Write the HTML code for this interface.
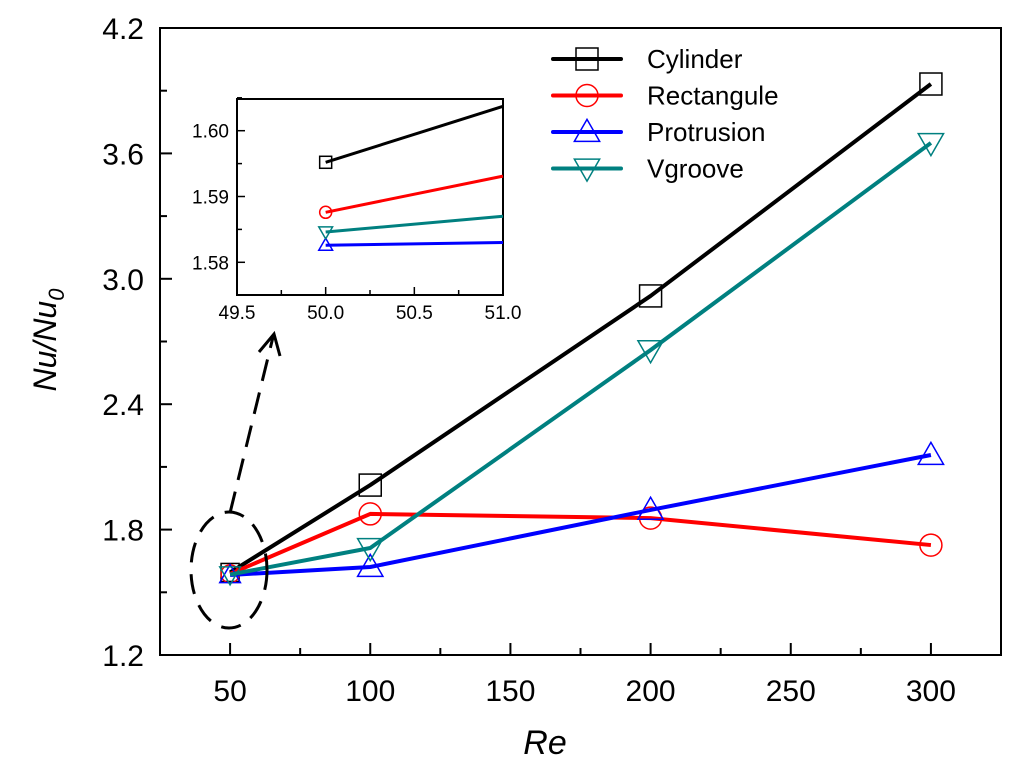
<!DOCTYPE html>
<html><head><meta charset="utf-8"><style>
body{margin:0;background:#fff}
svg{display:block;font-family:"Liberation Sans",Arial,sans-serif}
</style></head><body>
<svg id="c" width="1024" height="777" viewBox="0 0 1024 777"></svg>
<script>
const categories=[50,100,200,300];
const seriesNames=["Cylinder","Rectangule","Protrusion","Vgroove"];
const cylinder=[1.595,2.013,2.918,3.932];
const rectangule=[1.588,1.875,1.855,1.726];
const protrusion=[1.583,1.621,1.894,2.157];
const vgroove=[1.585,1.712,2.659,3.650];
const xTicks=["50","100","150","200","250","300"];
const yTicks=["1.2","1.8","2.4","3.0","3.6","4.2"];
const insetX=[50.0,51.0];
const insetCyl=[1.5952,1.6037];
const insetRect=[1.5876,1.5931];
const insetProt=[1.5826,1.5830];
const insetVg=[1.5846,1.5870];
const insetXTicks=["49.5","50.0","50.5","51.0"];
const insetYTicks=["1.58","1.59","1.60"];

const NS="http://www.w3.org/2000/svg";
const svg=document.getElementById('c');
function mk(t,a,p){const e=document.createElementNS(NS,t);for(const k in a)e.setAttribute(k,a[k]);(p||svg).appendChild(e);return e;}
const X0=160,X1=1001,Y0=655,Y1=28;
const xs=v=>X0+(v-25)/300*(X1-X0);
const ys=v=>Y0-(v-1.2)/3*(Y0-Y1);
const colors=["#000","#ff0000","#0000ff","#008080"];
const data=[cylinder,rectangule,protrusion,vgroove];
const markers=["square","circle","up","down"];

function marker(g,type,x,y,c,s){
  let e;
  if(type==="square")e=mk('rect',{x:x-s,y:y-s,width:2*s,height:2*s,fill:"none",stroke:c,"stroke-width":1.5},g);
  else if(type==="circle")e=mk('circle',{cx:x,cy:y,r:s,fill:"none",stroke:c,"stroke-width":1.5},g);
  else if(type==="up")e=mk('polygon',{points:`${x},${y-s*1.15} ${x-s*1.15},${y+s*0.85} ${x+s*1.15},${y+s*0.85}`,fill:"none",stroke:c,"stroke-width":1.5},g);
  else e=mk('polygon',{points:`${x},${y+s*1.15} ${x-s*1.15},${y-s*0.85} ${x+s*1.15},${y-s*0.85}`,fill:"none",stroke:c,"stroke-width":1.5},g);
  return e;
}

const ax=mk('g',{});

mk('rect',{x:X0,y:Y1,width:X1-X0,height:Y0-Y1,fill:"none",stroke:"#000","stroke-width":2},ax);
xTicks.forEach((t,i)=>{const v=+t;const x=xs(v);
  mk('line',{x1:x,y1:Y0,x2:x,y2:Y0-12,stroke:"#000","stroke-width":2},ax);
  const m=xs(v+25);if(v<300)mk('line',{x1:m,y1:Y0,x2:m,y2:Y0-7,stroke:"#000","stroke-width":2},ax);
  const tx=mk('text',{x:x,y:Y0+46,"text-anchor":"middle","font-size":30,fill:"#000"},ax);tx.textContent=t;
  
});
mk('line',{x1:xs(25),y1:Y0,x2:xs(25),y2:Y0-7,stroke:"#000","stroke-width":2},ax);
yTicks.forEach((t,i)=>{const v=+t;const y=ys(v);
  mk('line',{x1:X0,y1:y,x2:X0+12,y2:y,stroke:"#000","stroke-width":2},ax);
  if(i<yTicks.length-1){const m=ys(v+0.3);mk('line',{x1:X0,y1:m,x2:X0+7,y2:m,stroke:"#000","stroke-width":2},ax);}
  const tx=mk('text',{x:X0-16,y:y+11,"text-anchor":"end","font-size":30,fill:"#000"},ax);tx.textContent=t;
  
});
const xt=mk('text',{x:545,y:754,"text-anchor":"middle","font-size":34,"font-style":"italic"});xt.textContent="Re";

const yt=mk('text',{transform:"translate(56,340) rotate(-90)","text-anchor":"middle","font-size":32,"font-style":"italic"});
yt.innerHTML='Nu/Nu<tspan font-size="22" dy="8">0</tspan>';


data.forEach((d,si)=>{
  const g=mk('g',{});
  
  mk('polyline',{points:d.map((v,i)=>xs(categories[i])+","+ys(v)).join(" "),fill:"none",stroke:colors[si],"stroke-width":4,"stroke-linejoin":"round"},g);
  d.forEach((v,i)=>{const m=marker(g,markers[si],xs(categories[i]),ys(v),colors[si],i===0?9:11);
    });
});

const el=mk('ellipse',{cx:229,cy:570,rx:38,ry:58,fill:"none",stroke:"#000","stroke-width":3,"stroke-dasharray":"20,12"});

const ar=mk('g',{});
mk('line',{x1:230,y1:513,x2:273,y2:337,stroke:"#000","stroke-width":3,"stroke-dasharray":"22,12"},ar);
mk('polyline',{points:"259,352 274,334 280,356",fill:"none",stroke:"#000","stroke-width":3},ar);

const lg=mk('g',{});
seriesNames.forEach((n,i)=>{const y=59+i*36.5;
  const e=mk('g',{},lg);
  mk('line',{x1:553,y1:y,x2:621,y2:y,stroke:colors[i],"stroke-width":4,"stroke-linecap":"round"},e);
  marker(e,markers[i],587,y,colors[i],11);
  const t=mk('text',{x:647,y:y+9,"font-size":26},e);t.textContent=n;
});

const IX0=237,IX1=503,IY0=295,IY1=99;
const ixs=v=>IX0+(v-49.5)/1.5*(IX1-IX0);
const iys=v=>262.3-(v-1.58)/0.02*(262.3-130.7);
const ig=mk('g',{});
mk('rect',{x:IX0,y:IY1,width:IX1-IX0,height:IY0-IY1,fill:"#fff",stroke:"#000","stroke-width":2},ig);
insetXTicks.forEach((t,i)=>{const v=+t;const x=ixs(v);
  mk('line',{x1:x,y1:IY0,x2:x,y2:IY0-8,stroke:"#000","stroke-width":1.5},ig);
  if(i<insetXTicks.length-1){const m=ixs(v+0.25);mk('line',{x1:m,y1:IY0,x2:m,y2:IY0-5,stroke:"#000","stroke-width":1.5},ig);}
  const tx=mk('text',{x:x,y:IY0+24,"text-anchor":"middle","font-size":19},ig);tx.textContent=t;
});
insetYTicks.forEach((t,i)=>{const v=+t;const y=iys(v);
  mk('line',{x1:IX0,y1:y,x2:IX0+8,y2:y,stroke:"#000","stroke-width":1.5},ig);
  const m=iys(v+0.005);mk('line',{x1:IX0,y1:m,x2:IX0+5,y2:m,stroke:"#000","stroke-width":1.5},ig);
  const tx=mk('text',{x:IX0-8,y:y+7,"text-anchor":"end","font-size":19},ig);tx.textContent=t;
});
const idata=[insetCyl,insetRect,insetProt,insetVg];
idata.forEach((d,si)=>{
  const g=mk('g',{},ig);
  mk('polyline',{points:d.map((v,i)=>ixs(insetX[i])+","+iys(v)).join(" "),fill:"none",stroke:colors[si],"stroke-width":3},g);
  marker(g,markers[si],ixs(insetX[0]),iys(d[0]),colors[si],6);
});
</script>
</body></html>
